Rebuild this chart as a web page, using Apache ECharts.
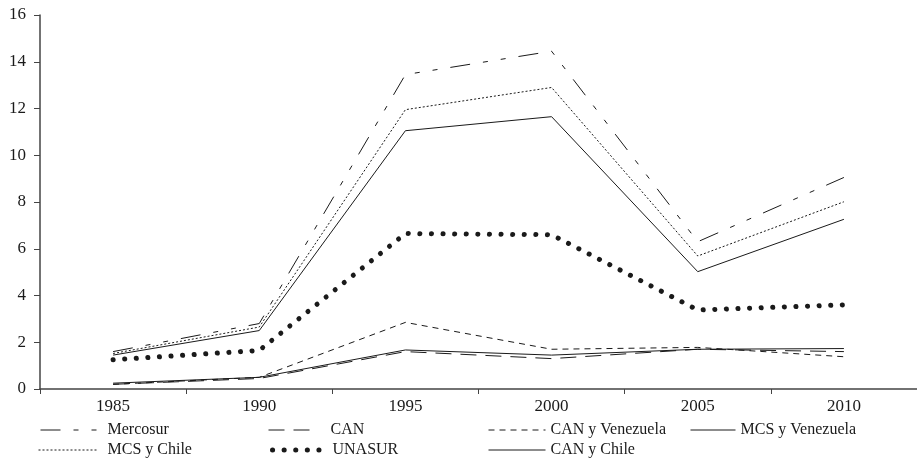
<!DOCTYPE html>
<html>
<head>
<meta charset="utf-8">
<script src="https://cdn.jsdelivr.net/npm/echarts@6/dist/echarts.min.js"></script>
<style>html,body{margin:0;padding:0;background:#fff}#c{width:917px;height:459px}</style>
</head>
<body>
<div id="c"></div>
<script>
var years = ['1985', '1990', '1995', '2000', '2005', '2010'];
var mercosur = [1.6, 2.8, 13.45, 14.45, 6.3, 9.05];
var can = [0.2, 0.45, 1.6, 1.3, 1.7, 1.6];
var canVenezuela = [0.2, 0.5, 2.85, 1.7, 1.78, 1.38];
var mcsVenezuela = [1.45, 2.5, 11.05, 11.65, 5.02, 7.26];
var mcsChile = [1.52, 2.65, 11.95, 12.9, 5.69, 8.01];
var unasur = [1.25, 1.65, 6.65, 6.6, 3.38, 3.6];
var canChile = [0.25, 0.5, 1.67, 1.45, 1.7, 1.73];
var yTicks = [0, 2, 4, 6, 8, 10, 12, 14, 16];

var FONT = '"Liberation Serif", "Times New Roman", serif';
var INK = '#1a1a1a';

var styles = {
  'Mercosur': { type: [20, 13, 5, 13, 5, 13], width: 1 },
  'CAN': { type: [16, 9], width: 1 },
  'CAN y Venezuela': { type: [6, 5], width: 1 },
  'MCS y Venezuela': { type: 'solid', width: 1 },
  'MCS y Chile': { type: [2, 2], width: 1 },
  'UNASUR': { type: [0.1, 11.5], width: 5, cap: 'round' },
  'CAN y Chile': { type: 'solid', width: 1 }
};

function mk(name, data) {
  return {
    name: name, type: 'line', data: data, symbol: 'none', smooth: false,
    lineStyle: Object.assign({ color: INK }, styles[name]),
    itemStyle: { color: INK }
  };
}

var series = [
  mk('Mercosur', mercosur),
  mk('CAN', can),
  mk('CAN y Venezuela', canVenezuela),
  mk('MCS y Venezuela', mcsVenezuela),
  mk('MCS y Chile', mcsChile),
  mk('UNASUR', unasur),
  mk('CAN y Chile', canChile)
];

function lg(name, left, top, w, padLeft) {
  return {
    data: [name], left: left, top: top, padding: 0,
    itemWidth: w, itemHeight: 14,
    itemStyle: { color: 'transparent', borderColor: 'transparent', borderWidth: 0 },
    lineStyle: Object.assign({ color: INK }, styles[name]),
    textStyle: { fontFamily: FONT, fontSize: 16, color: INK, padding: [0, 0, 0, padLeft || 0] }
  };
}

var chart = echarts.init(document.getElementById('c'), null, { renderer: 'canvas' });
chart.setOption({
  animation: false,
  backgroundColor: '#fff',
  grid: { left: 40, top: 15, width: 879, height: 374 },
  legend: [
    lg('Mercosur', 40, 422, 62, 0),
    lg('CAN', 268, 422, 47, 10),
    lg('CAN y Venezuela', 488, 422, 57, 0),
    lg('MCS y Venezuela', 690, 422, 45, 0),
    lg('MCS y Chile', 38, 442, 59, 5),
    lg('UNASUR', 270, 442, 55, 0),
    lg('CAN y Chile', 488, 442, 57, 0)
  ],
  xAxis: {
    type: 'category', data: years, boundaryGap: true,
    axisLine: { lineStyle: { color: '#444', width: 1.5 } },
    axisTick: { show: true, length: 5, lineStyle: { color: '#444' } },
    axisLabel: { fontFamily: FONT, fontSize: 17, color: INK, margin: 9 }
  },
  yAxis: {
    type: 'value', min: yTicks[0], max: yTicks[yTicks.length - 1], interval: 2,
    axisLine: { show: true, lineStyle: { color: '#444', width: 1.5 } },
    axisTick: { show: true, length: 6, lineStyle: { color: '#444' } },
    splitLine: { show: false },
    axisLabel: { fontFamily: FONT, fontSize: 17, color: INK, margin: 14 }
  },
  series: series
});
</script>
</body>
</html>
